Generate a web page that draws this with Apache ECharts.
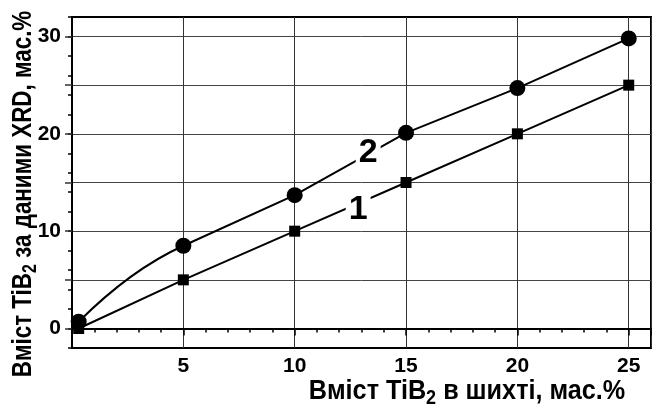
<!DOCTYPE html>
<html>
<head>
<meta charset="utf-8">
<script src="https://cdn.jsdelivr.net/npm/echarts@6/dist/echarts.min.js"></script>
<style>
  html, body { margin: 0; padding: 0; background: #fff; }
  #chart { width: 654px; height: 407px; }
</style>
</head>
<body>
<div id="chart"></div>
<script>
// TiB2 content in the charge (x) vs. TiB2 content found by XRD (y), wt.%
const chargeContent = [0.3, 5, 10, 15, 20, 25];
const curve1 = [0, 5, 10, 15, 20, 25];
const curve2 = [0.7, 8.5, 13.7, 20.1, 24.7, 29.8];

const xTickLabels = [5, 10, 15, 20, 25];
const yTickLabels = [0, 10, 20, 30];
const yGridValues = [0, 5, 10, 15, 20, 25, 30];

const curveNames = ['1', '2'];
// anchor points of the curve numbers, in axis units
const curveNameAnchors = [[12.85, 12.2], [13.3, 18.05]];

const FONT = '"Liberation Sans", Arial, sans-serif';

const pairs = (xs, ys) => xs.map((x, i) => [x, ys[i]]);

const chart = echarts.init(document.getElementById('chart'), null, { renderer: 'canvas' });

const titleRich = (size, subSize) => ({
  a: { fontSize: size, fontWeight: 'bold', fontFamily: FONT, lineHeight: size + 6, fill: '#000' },
  s: { fontSize: subSize, fontWeight: 'bold', fontFamily: FONT, lineHeight: subSize,
       padding: [size + 6 - subSize, 0, 0, 0], fill: '#000' }
});

// curve 2 rises steeply from the first point: its first span is a quadratic arc
// that joins the straight run from the second point on without a kink
function renderCurve2Start(params, api) {
  if (params.dataIndex !== 0) return null;
  const p0 = api.coord([chargeContent[0], curve2[0]]);
  const p1 = api.coord([chargeContent[1], curve2[1]]);
  const p2 = api.coord([chargeContent[2], curve2[2]]);
  const t = (p1[0] - (p0[0] + p1[0]) / 2) / (p2[0] - p1[0]);
  const c = [p1[0] - t * (p2[0] - p1[0]), p1[1] - t * (p2[1] - p1[1])];
  return {
    type: 'bezierCurve',
    shape: { x1: p0[0], y1: p0[1], x2: p1[0], y2: p1[1], cpx1: c[0], cpy1: c[1] },
    style: { stroke: '#000', lineWidth: 2, fill: null }
  };
}

chart.setOption({
  backgroundColor: '#fff',
  animation: false,
  grid: {
    left: 72, top: 17, width: 588, height: 331,
    show: true, borderColor: '#000', borderWidth: 2, backgroundColor: 'transparent'
  },
  xAxis: {
    type: 'value', min: 0, max: 26, interval: 5,
    axisLine: { show: true, lineStyle: { color: '#000', width: 2 } },
    axisTick: { show: true, inside: false, length: 7, lineStyle: { color: '#000', width: 1.5 } },
    minorTick: { show: true, splitNumber: 5, length: 4, lineStyle: { color: '#000', width: 1.5 } },
    axisLabel: {
      margin: 8, color: '#000', fontSize: 21, fontWeight: 'bold', fontFamily: FONT,
      formatter: v => (xTickLabels.indexOf(v) >= 0 ? String(v) : '')
    },
    splitLine: { show: true, lineStyle: { color: '#333', width: 1 } },
    minorSplitLine: { show: false }
  },
  yAxis: [
    {
      type: 'value', min: -2, max: 32, interval: 2,
      axisLine: { show: true, lineStyle: { color: '#000', width: 2 } },
      axisTick: { show: true, inside: false, length: 4, lineStyle: { color: '#000', width: 1.5 } },
      axisLabel: { show: false },
      splitLine: { show: false }
    },
    {
      type: 'value', min: -2, max: 32, interval: 2, position: 'left',
      axisLine: { show: false },
      axisTick: { show: true, inside: false, length: 7, customValues: yGridValues, lineStyle: { color: '#333', width: 1.5 } },
      axisLabel: {
        margin: 11, color: '#000', fontSize: 21, fontWeight: 'bold', fontFamily: FONT,
        customValues: yTickLabels
      },
      splitLine: { show: true, lineStyle: { color: '#444', width: 1 } }
    }
  ],
  series: [
    {
      name: '1', type: 'line', yAxisIndex: 0,
      data: pairs(chargeContent, curve1),
      symbol: 'rect', symbolSize: 11,
      itemStyle: { color: '#000' },
      lineStyle: { color: '#000', width: 2 },
      z: 3
    },
    {
      name: '2', type: 'line', yAxisIndex: 0,
      data: pairs(chargeContent.slice(1), curve2.slice(1)),
      symbol: 'none',
      lineStyle: { color: '#000', width: 2 },
      z: 3
    },
    {
      name: '2', type: 'custom', yAxisIndex: 0,
      data: pairs(chargeContent, curve2),
      renderItem: renderCurve2Start,
      z: 3, silent: true
    },
    {
      name: '2', type: 'scatter', yAxisIndex: 0,
      data: pairs(chargeContent, curve2),
      symbol: 'circle', symbolSize: 16,
      itemStyle: { color: '#000', opacity: 1 },
      z: 4
    },
    {
      type: 'scatter', yAxisIndex: 0,
      data: curveNameAnchors.map((p, i) => ({ value: p, name: curveNames[i] })),
      symbolSize: 1,
      itemStyle: { color: 'rgba(255,255,255,0)', opacity: 1 },
      label: {
        show: true, position: 'inside', formatter: p => p.name, opacity: 1,
        color: '#000', fontSize: 34, fontWeight: 'bold', fontFamily: FONT,
        backgroundColor: '#fff', padding: [0, 3, 0, 3]
      },
      z: 5, silent: true
    }
  ],
  graphic: [
    {
      type: 'text', x: 467, y: 391, z: 10, scaleX: 0.9,
      style: {
        text: '{a|Вміст TiB}{s|2}{a| в шихті, мас.%}',
        align: 'center', verticalAlign: 'middle',
        rich: titleRich(28, 20)
      }
    },
    {
      type: 'text', x: 23, y: 194, rotation: Math.PI / 2, z: 10, scaleX: 0.8,
      style: {
        text: '{a|Вміст TiB}{s|2}{a| за даними XRD, мас.%}',
        align: 'center', verticalAlign: 'middle',
        rich: titleRich(28, 20)
      }
    }
  ]
});
</script>
</body>
</html>
